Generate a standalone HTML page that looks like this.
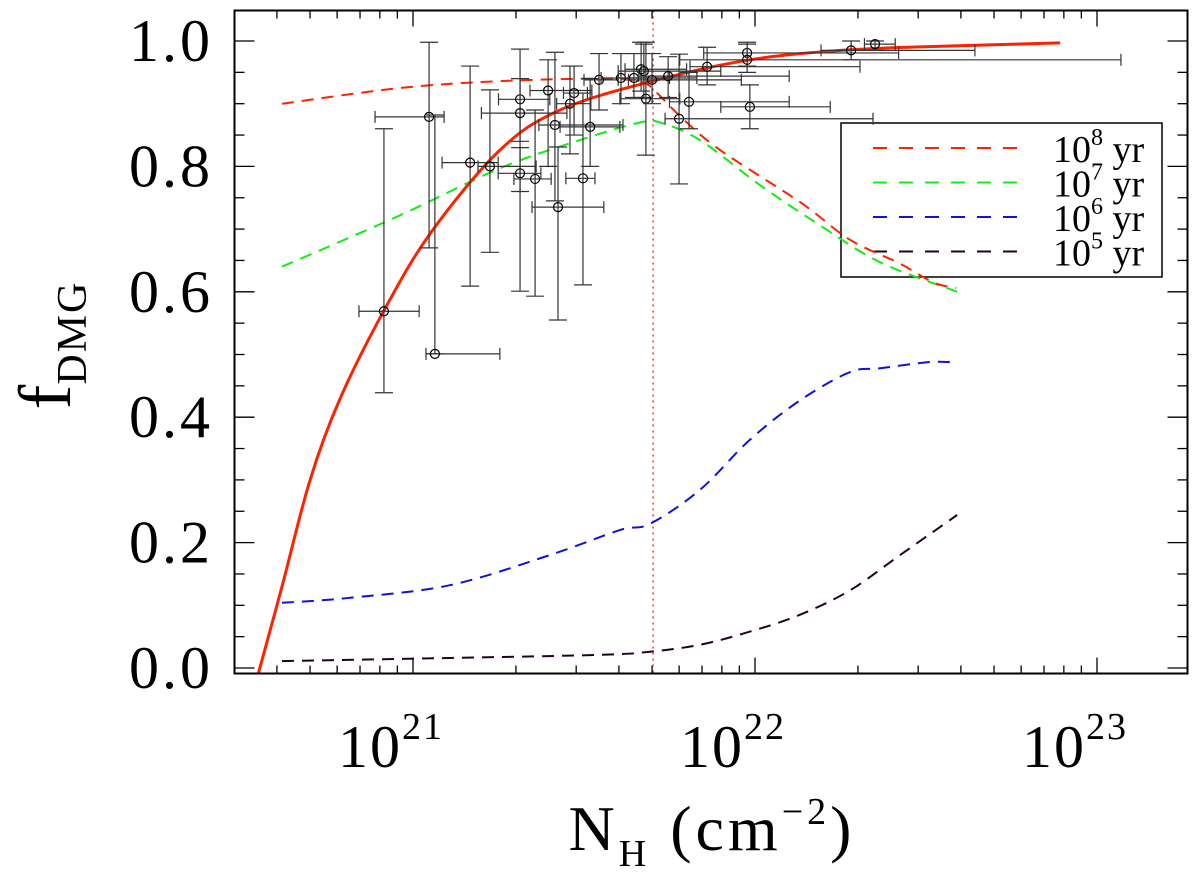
<!DOCTYPE html>
<html><head><meta charset="utf-8"><style>
body{margin:0;background:#fff}
svg text{font-family:"Liberation Serif",serif;fill:#000}
</style></head><body>
<svg id="chart" width="1200" height="867" viewBox="0 0 1200 867" xmlns="http://www.w3.org/2000/svg">
<rect x="0" y="0" width="1200" height="867" fill="#fff"/>
<g id="ticks"></g>
<g id="legend">
<rect x="841" y="123" width="321" height="154" fill="#fff" stroke="#000" stroke-width="1.5"/>
</g>
<g id="curves"></g>
<g id="points"></g>
<rect x="234.5" y="10.5" width="953" height="663" fill="none" stroke="#000" stroke-width="2"/>
<g id="labels"></g>
<text x="0" y="0" transform="translate(70,345) rotate(-90)" text-anchor="middle" font-size="74">f<tspan font-size="42" dy="16" letter-spacing="2">DMG</tspan></text>
<text x="712" y="850" text-anchor="middle" font-size="64" letter-spacing="4">N<tspan font-size="38" dy="16">H</tspan><tspan dy="-16">  (cm</tspan><tspan font-size="38" dy="-26">−2</tspan><tspan dy="26">)</tspan></text>
</svg>
<script>
const tickLabelsY=[0.0,0.2,0.4,0.6,0.8,1.0];
const decades=[21,22,23];
const red8X=[20.617,20.962,21.254,21.547,21.664,21.708,21.781,21.898,22.132,22.278,22.424,22.521,22.588];
const red8Y=[0.900,0.925,0.936,0.940,0.935,0.920,0.880,0.826,0.743,0.683,0.645,0.615,0.606];
const green7X=[20.617,20.962,21.254,21.488,21.664,21.722,21.839,22.015,22.190,22.366,22.591];
const green7Y=[0.640,0.722,0.797,0.842,0.870,0.870,0.842,0.770,0.706,0.647,0.600];
const blue6X=[20.617,20.816,21.108,21.400,21.605,21.693,21.839,21.985,22.132,22.278,22.366,22.512,22.591];
const blue6Y=[0.104,0.112,0.132,0.180,0.220,0.230,0.284,0.364,0.427,0.472,0.478,0.488,0.487];
const black5X=[20.617,21.108,21.547,21.693,21.839,21.985,22.132,22.278,22.424,22.591];
const black5Y=[0.011,0.016,0.021,0.026,0.037,0.058,0.085,0.124,0.180,0.244];
const solidX=[20.547,20.617,20.699,20.787,20.915,21.053,21.254,21.430,21.693,21.985,22.278,22.570,22.892];
const solidY=[-0.01,0.13,0.30,0.43,0.57,0.695,0.826,0.89,0.935,0.970,0.986,0.992,0.997];
const ptX=[20.915,21.047,21.064,21.167,21.225,21.313,21.313,21.313,21.357,21.395,21.415,21.424,21.459,21.471,21.497,21.518,21.544,21.608,21.646,21.667,21.675,21.681,21.699,21.746,21.778,21.807,21.860,21.977,21.977,21.985,22.281,22.351];
const ptY=[0.569,0.879,0.501,0.806,0.800,0.907,0.885,0.789,0.780,0.921,0.866,0.735,0.900,0.917,0.781,0.863,0.938,0.941,0.941,0.955,0.952,0.908,0.938,0.944,0.876,0.903,0.959,0.981,0.970,0.895,0.985,0.995];
const ptXlo=[20.842,20.889,21.038,21.085,21.190,21.250,21.200,21.249,21.295,21.342,21.368,21.348,21.420,21.440,21.447,21.430,21.500,21.550,21.600,21.620,21.600,21.605,21.630,21.660,21.737,21.750,21.810,21.850,21.780,21.900,22.193,22.320];
const ptXhi=[21.018,21.091,21.254,21.249,21.360,21.400,21.450,21.374,21.404,21.523,21.614,21.558,21.520,21.510,21.532,21.605,21.600,21.830,21.750,21.800,21.900,21.780,21.960,22.100,22.345,22.100,22.307,22.420,23.070,22.220,22.643,22.410];
const ptYlo=[0.439,0.670,0.501,0.609,0.663,0.601,0.840,0.760,0.593,0.800,0.745,0.555,0.820,0.850,0.611,0.800,0.890,0.900,0.910,0.920,0.910,0.818,0.900,0.910,0.772,0.860,0.930,0.960,0.950,0.860,0.970,0.985];
const ptYhi=[0.860,0.998,0.882,0.960,0.922,0.987,0.940,0.830,0.890,0.970,0.982,0.831,0.960,0.960,0.917,0.940,0.980,0.980,0.980,0.998,0.995,0.998,0.980,0.975,0.979,0.950,0.990,0.998,0.995,0.930,1.000,1.000];
const vLine=21.702;
const legendExp=["8","7","6","5"];
const legendColors=["#ff2200","#11ee11","#1111dd","#220022"];

const NS="http://www.w3.org/2000/svg";
const L=234.5,R=1187.5,T=10.5,B=673.5;
function sx(v){return 413+(v-21)*342;}
function sy(v){return 668-v*627;}
function mk(tag,attrs,parent){const e=document.createElementNS(NS,tag);for(const k in attrs)e.setAttribute(k,attrs[k]);parent.appendChild(e);return e;}
const gT=document.getElementById('ticks'),gC=document.getElementById('curves'),gP=document.getElementById('points'),gL=document.getElementById('labels'),gLeg=document.getElementById('legend');
const clip=mk('clipPath',{id:'pc'},document.getElementById('chart'));
mk('rect',{x:L,y:T,width:R-L,height:B-T},clip);

for(let d=20;d<=23;d++){for(let k=1;k<=9;k++){const x=sx(d+Math.log10(k));if(x<L||x>R)continue;const len=k===1?16:8;
const t1=mk('line',{x1:x,y1:B,x2:x,y2:B-len,stroke:'#000','stroke-width':1.3},gT);


const t2=mk('line',{x1:x,y1:T,x2:x,y2:T+len,stroke:'#000','stroke-width':1.3},gT);

}}
for(let i=0;i<=21;i++){const v=i*0.05;const y=sy(v);if(y<T)continue;const major=(i%4===0)||i===20;const len=major?20:10;
const t1=mk('line',{x1:L,y1:y,x2:L+len,y2:y,stroke:'#000','stroke-width':1.3},gT);


const t2=mk('line',{x1:R,y1:y,x2:R-len,y2:y,stroke:'#000','stroke-width':1.3},gT);

}
tickLabelsY.forEach(v=>{const t=mk('text',{x:213,y:sy(v)+20,'text-anchor':'end','font-size':60,'letter-spacing':3},gL);t.textContent=v.toFixed(1);

});
decades.forEach(d=>{const t=mk('text',{x:sx(d)-22,y:767,'text-anchor':'middle','font-size':60,'letter-spacing':2},gL);t.textContent='10';
const s=mk('tspan',{'font-size':38,dy:-28},t);s.textContent=String(d);

});

function path(xs,ys){const P=xs.map((v,i)=>[sx(v),sy(ys[i])]);let d='M'+P[0][0].toFixed(1)+','+P[0][1].toFixed(1);
for(let i=0;i<P.length-1;i++){const p0=P[Math.max(0,i-1)],p1=P[i],p2=P[i+1],p3=P[Math.min(P.length-1,i+2)];
const c1=[p1[0]+(p2[0]-p0[0])/6,p1[1]+(p2[1]-p0[1])/6],c2=[p2[0]-(p3[0]-p1[0])/6,p2[1]-(p3[1]-p1[1])/6];
d+=' C'+c1[0].toFixed(1)+','+c1[1].toFixed(1)+' '+c2[0].toFixed(1)+','+c2[1].toFixed(1)+' '+p2[0].toFixed(1)+','+p2[1].toFixed(1);}return d;}
const cg=mk('g',{'clip-path':'url(#pc)'},gC);
const vl=mk('line',{x1:sx(vLine),y1:T,x2:sx(vLine),y2:B,stroke:'#ff0000','stroke-width':1.2,'stroke-dasharray':'2,4'},cg);



ptX.forEach((v,i)=>{const g=mk('g',{stroke:'#333','stroke-width':1.2,fill:'none'},gP);


const x=sx(v),y=sy(ptY[i]),x1=sx(ptXlo[i]),x2=sx(ptXhi[i]),y1=sy(ptYlo[i]),y2=sy(ptYhi[i]);
mk('line',{x1:x1,y1:y,x2:x2,y2:y},g);mk('line',{x1:x1,y1:y-6,x2:x1,y2:y+6},g);mk('line',{x1:x2,y1:y-6,x2:x2,y2:y+6},g);
mk('line',{x1:x,y1:y1,x2:x,y2:y2},g);mk('line',{x1:x-9,y1:y1,x2:x+9,y2:y1},g);mk('line',{x1:x-9,y1:y2,x2:x+9,y2:y2},g);
mk('circle',{cx:x,cy:y,r:4.5,stroke:'#000'},g);});

const series=[[black5X,black5Y,legendColors[3],'curve-1e5-yr'],[blue6X,blue6Y,legendColors[2],'curve-1e6-yr'],[green7X,green7Y,legendColors[1],'curve-1e7-yr'],[red8X,red8Y,legendColors[0],'curve-1e8-yr']];
series.forEach(s=>{const p=mk('path',{d:path(s[0],s[1]),fill:'none',stroke:s[2],'stroke-width':2,'stroke-dasharray':'12,8'},cg);

});
const sp=mk('path',{d:path(solidX,solidY),fill:'none',stroke:'#ff2200','stroke-width':3},cg);



legendExp.forEach((e,i)=>{const y=148+i*34.5;
const l=mk('line',{x1:873,y1:y,x2:1023,y2:y,stroke:legendColors[i],'stroke-width':2,'stroke-dasharray':'14,12'},gLeg);


const t=mk('text',{x:1053,y:y+14,'font-size':38},gLeg);t.textContent='10';
const s=mk('tspan',{'font-size':24,dy:-17},t);s.textContent=e;
const s2=mk('tspan',{dy:17},t);s2.textContent=' yr';

});
</script>
</body></html>
